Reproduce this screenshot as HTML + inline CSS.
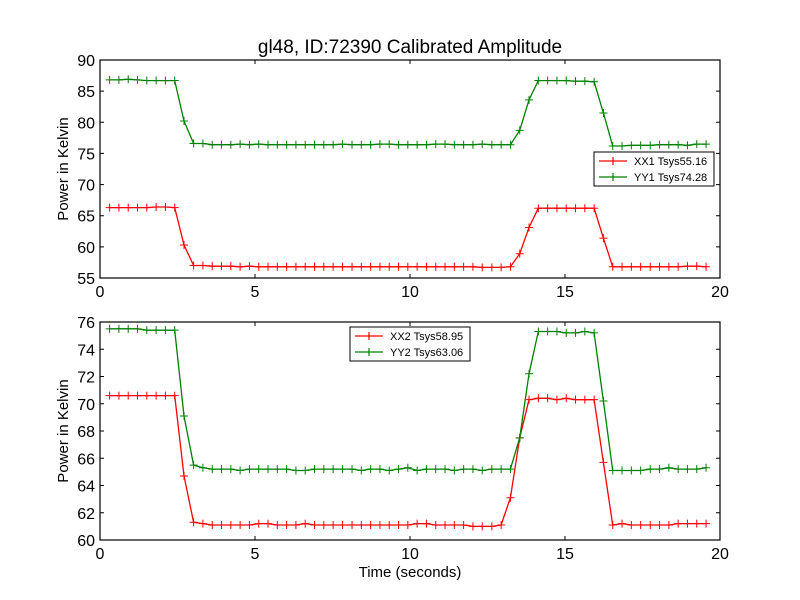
<!DOCTYPE html>
<html><head><meta charset="utf-8"><style>
body{margin:0;background:#fff;}
svg{display:block;font-family:"Liberation Sans","DejaVu Sans",sans-serif;}
</style></head><body>
<svg id="chart" width="800" height="600" viewBox="0 0 800 600">
<rect width="800" height="600" fill="#fff"/>
<text x="410" y="53" font-size="19" text-anchor="middle">gl48, ID:72390 Calibrated Amplitude</text>
<g id="top"></g><g id="bot"></g>
</svg>
<script>
const times=[0.31,0.61,0.91,1.21,1.51,1.81,2.11,2.41,2.71,3.02,3.32,3.62,3.92,4.22,4.52,4.82,5.12,5.42,5.72,6.02,6.32,6.62,6.92,7.22,7.52,7.82,8.13,8.43,8.73,9.03,9.33,9.63,9.93,10.23,10.53,10.83,11.13,11.43,11.73,12.03,12.33,12.64,12.94,13.24,13.54,13.84,14.14,14.44,14.74,15.04,15.34,15.64,15.94,16.24,16.54,16.84,17.14,17.44,17.75,18.05,18.35,18.65,18.95,19.25,19.55];
const xx1=[66.3,66.3,66.3,66.3,66.3,66.4,66.4,66.3,60.3,57.0,57.0,56.9,56.9,56.9,56.8,56.9,56.8,56.8,56.8,56.8,56.8,56.8,56.8,56.8,56.8,56.8,56.8,56.8,56.8,56.8,56.8,56.8,56.8,56.8,56.8,56.8,56.8,56.8,56.8,56.8,56.7,56.7,56.7,56.8,58.9,63.1,66.2,66.2,66.2,66.2,66.2,66.2,66.2,61.4,56.8,56.8,56.8,56.8,56.8,56.8,56.8,56.8,56.9,56.9,56.8];
const yy1=[86.8,86.8,86.9,86.8,86.7,86.7,86.7,86.7,80.2,76.6,76.6,76.4,76.4,76.4,76.5,76.4,76.5,76.4,76.4,76.4,76.4,76.4,76.4,76.4,76.4,76.5,76.4,76.4,76.4,76.5,76.5,76.4,76.4,76.4,76.4,76.5,76.5,76.4,76.4,76.4,76.5,76.4,76.4,76.4,78.7,83.6,86.7,86.7,86.7,86.7,86.6,86.6,86.5,81.5,76.2,76.2,76.3,76.3,76.3,76.4,76.4,76.4,76.3,76.5,76.5];
const xx2=[70.6,70.6,70.6,70.6,70.6,70.6,70.6,70.6,64.7,61.3,61.2,61.1,61.1,61.1,61.1,61.1,61.2,61.2,61.1,61.1,61.1,61.2,61.1,61.1,61.1,61.1,61.1,61.1,61.1,61.1,61.1,61.1,61.1,61.2,61.2,61.1,61.1,61.1,61.1,61.0,61.0,61.0,61.1,63.1,67.5,70.3,70.4,70.4,70.3,70.4,70.3,70.3,70.3,65.7,61.1,61.2,61.1,61.1,61.1,61.1,61.1,61.2,61.2,61.2,61.2];
const yy2=[75.5,75.5,75.5,75.5,75.4,75.4,75.4,75.4,69.1,65.5,65.3,65.2,65.2,65.2,65.1,65.2,65.2,65.2,65.2,65.2,65.1,65.1,65.2,65.2,65.2,65.2,65.2,65.1,65.2,65.2,65.1,65.2,65.3,65.1,65.2,65.2,65.2,65.1,65.2,65.2,65.1,65.2,65.2,65.2,67.5,72.2,75.3,75.3,75.3,75.2,75.2,75.3,75.2,70.2,65.1,65.1,65.1,65.1,65.2,65.2,65.3,65.2,65.2,65.2,65.3];
const xTicks=[0,5,10,15,20];
const yTicksTop=[55,60,65,70,75,80,85,90];
const yTicksBot=[60,62,64,66,68,70,72,74,76];
const NS="http://www.w3.org/2000/svg";
function mk(p,tag,at){const e=document.createElementNS(NS,tag);for(const k in at)e.setAttribute(k,at[k]);p.appendChild(e);return e;}
function panel(g,top,bot,ymin,ymax,yTicks,series,leg,xlabel){
  const L=100,R=720;
  const sx=v=>L+(v-0)/(20-0)*(R-L);
  const sy=v=>bot-(v-ymin)/(ymax-ymin)*(bot-top);
  series.forEach(s=>{
    const pts=s.vals.map((v,i)=>sx(times[i]).toFixed(1)+","+sy(v).toFixed(1)).join(" ");
    const pl=mk(g,"polyline",{points:pts,fill:"none",stroke:s.color,"stroke-width":1.3});
    
    
    s.vals.forEach((v,i)=>{
      const x=sx(times[i]),y=sy(v);
      const m=mk(g,"path",{d:`M${x-4},${y}H${x+4}M${x},${y-4}V${y+4}`,stroke:s.color,"stroke-width":1});
      
      
    });
  });
  const fr=mk(g,"rect",{x:L,y:top,width:R-L,height:bot-top,fill:"none",stroke:"#000","stroke-width":1.2});
  
  
  xTicks.forEach(t=>{
    const x=sx(t);
    mk(g,"path",{d:`M${x},${bot}v-4M${x},${top}v4`,stroke:"#000"});
    const tx=mk(g,"text",{x:x,y:bot+19,"font-size":16,"text-anchor":"middle"});tx.textContent=t;
    
    
  });
  yTicks.forEach(t=>{
    const y=sy(t);
    mk(g,"path",{d:`M${L},${y}h4M${R},${y}h-4`,stroke:"#000"});
    const tx=mk(g,"text",{x:L-5,y:y+6,"font-size":16,"text-anchor":"end"});tx.textContent=t;
    
    
  });
  const yl=mk(g,"text",{x:0,y:0,"font-size":15,"text-anchor":"middle",transform:`translate(68,${(top+bot)/2}) rotate(-90)`});
  yl.textContent="Power in Kelvin";
  
  
  if(xlabel){const xl=mk(g,"text",{x:410,y:577,"font-size":15,"text-anchor":"middle"});xl.textContent=xlabel;
    
    }
  const lg=mk(g,"g",{});
  
  
  mk(lg,"rect",{x:leg.x,y:leg.y,width:leg.w,height:34,fill:"#fff",stroke:"#000","stroke-width":1});
  series.forEach((s,i)=>{
    const y=leg.y+9+i*16;
    mk(lg,"path",{d:`M${leg.x+5},${y}h28M${leg.x+19},${y-4}v8`,stroke:s.color,"stroke-width":1.2});
    const t=mk(lg,"text",{x:leg.x+40,y:y+4,"font-size":11});t.textContent=s.label;
    
    
  });
}
panel(document.getElementById("top"),60,278,55,90,yTicksTop,
 [{vals:xx1,color:"#ff0000",name:"xx1",label:"XX1 Tsys55.16"},{vals:yy1,color:"#008000",name:"yy1",label:"YY1 Tsys74.28"}],
 {x:594,y:152,w:120},null);
panel(document.getElementById("bot"),322,540,60,76,yTicksBot,
 [{vals:xx2,color:"#ff0000",name:"xx2",label:"XX2 Tsys58.95"},{vals:yy2,color:"#008000",name:"yy2",label:"YY2 Tsys63.06"}],
 {x:350,y:327,w:120},"Time (seconds)");
</script>
</body></html>
